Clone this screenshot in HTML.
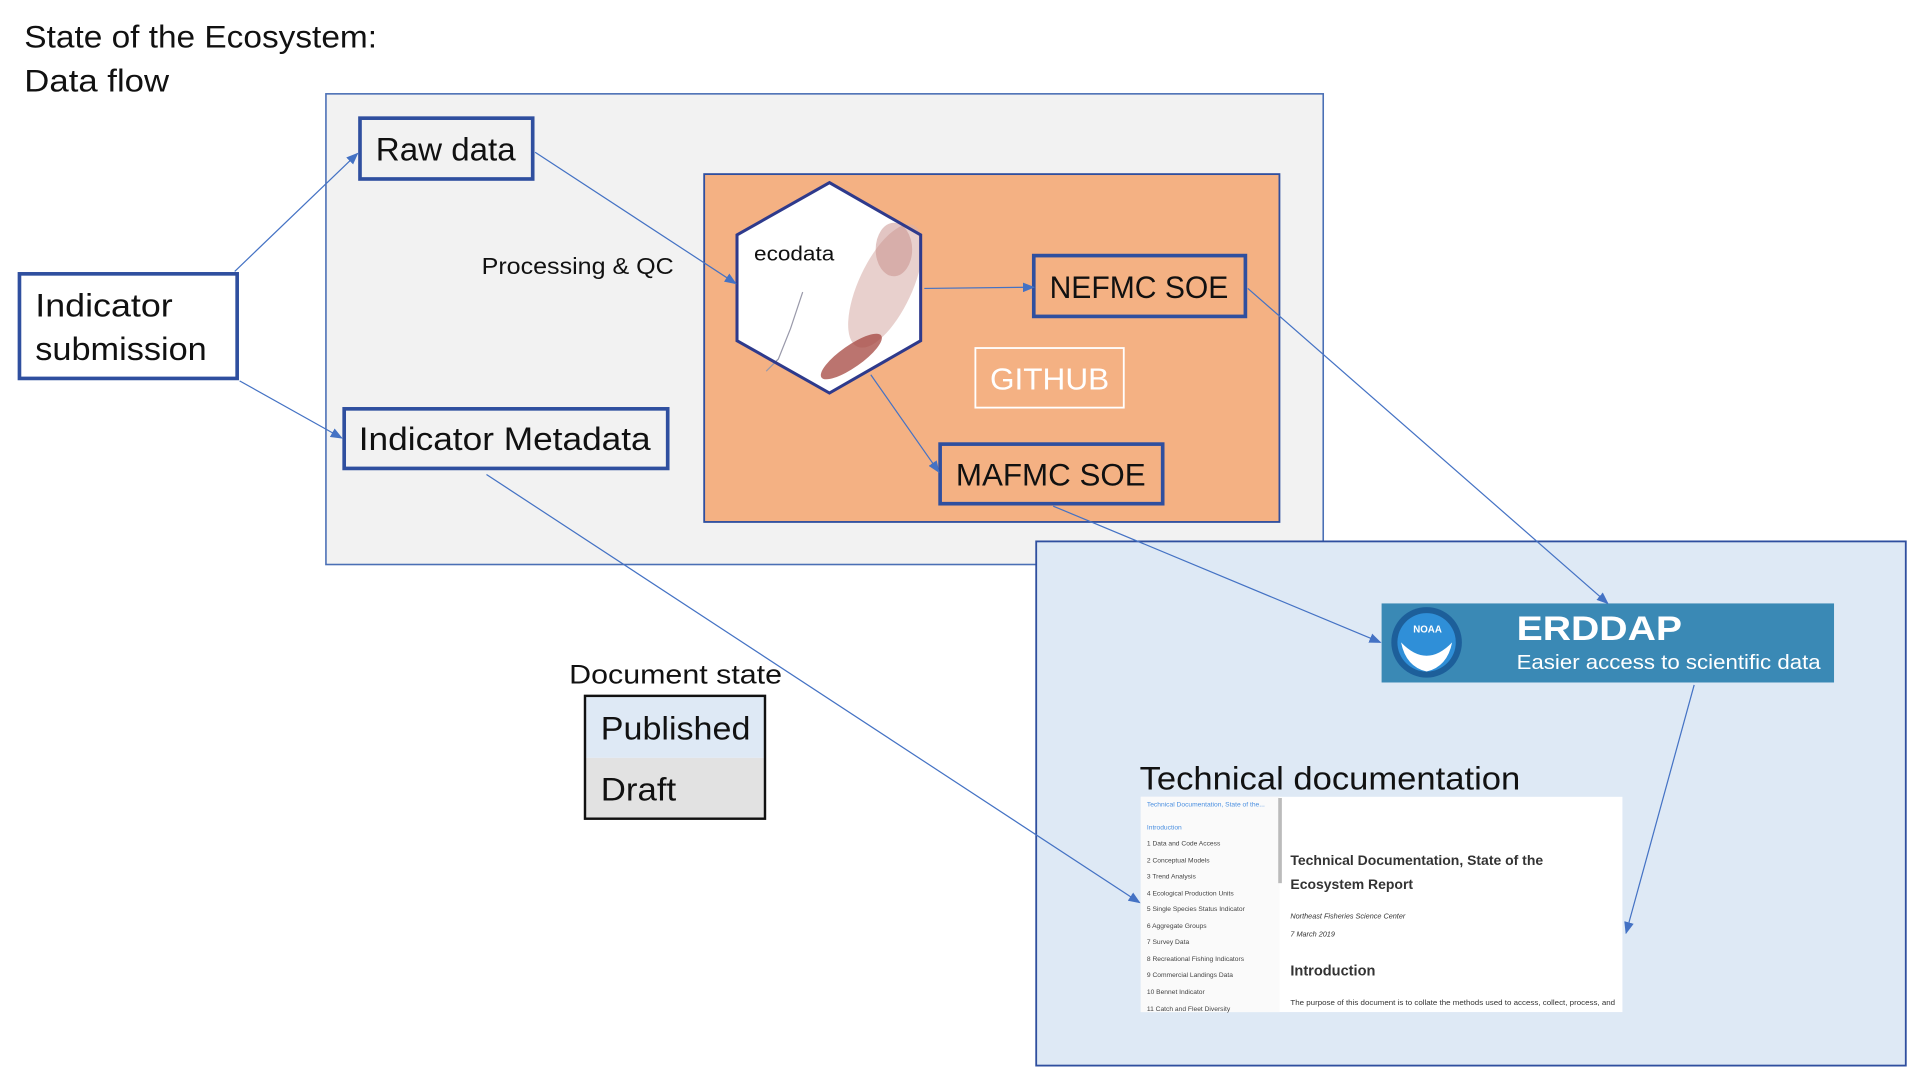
<!DOCTYPE html>
<html><head><meta charset="utf-8"><style>
html,body{margin:0;padding:0;background:#fff;}
svg{display:block;font-family:"Liberation Sans",sans-serif;}
</style></head><body>
<svg width="1907" height="1067" viewBox="0 0 1568 877" xmlns="http://www.w3.org/2000/svg">
<defs>
<marker id="a" markerWidth="10" markerHeight="8" refX="9" refY="4" orient="auto" markerUnits="userSpaceOnUse"><path d="M0,0 L10,4 L0,8 z" fill="#4472c4"/></marker>
</defs>
<g font-family="Liberation Sans, sans-serif">
<text x="20" y="39" font-size="26" fill="#111" textLength="290" lengthAdjust="spacingAndGlyphs">State of the Ecosystem:</text>
<text x="20" y="75" font-size="26" fill="#111" textLength="119" lengthAdjust="spacingAndGlyphs">Data flow</text>

<rect x="268" y="77" width="820" height="387" fill="#f2f2f2" stroke="#4a6fb5" stroke-width="1.3"/>
<rect x="852" y="445" width="715" height="431" fill="#dee9f5" stroke="#2f4f9f" stroke-width="1.5"/>
<rect x="579" y="143" width="473" height="286" fill="#f4b183" stroke="#2f4f9f" stroke-width="1.5"/>

<rect x="296" y="97" width="142" height="50" fill="#f2f2f2" stroke="#2f4f9f" stroke-width="3"/>
<text x="309" y="132" font-size="27" fill="#111" textLength="115" lengthAdjust="spacingAndGlyphs">Raw data</text>
<rect x="16" y="225" width="179" height="86" fill="#fff" stroke="#2f4f9f" stroke-width="3"/>
<text x="29" y="260" font-size="27" fill="#111" textLength="113" lengthAdjust="spacingAndGlyphs">Indicator</text>
<text x="29" y="296" font-size="27" fill="#111" textLength="141" lengthAdjust="spacingAndGlyphs">submission</text>
<rect x="283" y="336" width="266" height="49" fill="#f2f2f2" stroke="#2f4f9f" stroke-width="3"/>
<text x="295" y="370" font-size="27" fill="#111" textLength="240" lengthAdjust="spacingAndGlyphs">Indicator Metadata</text>
<text x="396" y="225" font-size="19" fill="#111" textLength="158" lengthAdjust="spacingAndGlyphs">Processing &amp; QC</text>

<polygon points="682,150 757,193 757,280 682,323 606,280 606,193" fill="#fff"/>
<ellipse cx="728" cy="235" rx="22" ry="55" fill="#d8b0ac" opacity="0.6" transform="rotate(25 728 235)"/>
<ellipse cx="735" cy="205" rx="15" ry="22" fill="#c58c88" opacity="0.5"/>
<ellipse cx="700" cy="293" rx="30" ry="9" fill="#a4453f" opacity="0.75" transform="rotate(-35 700 293)"/>
<path d="M660,240 L650,270 L640,295 L630,305" stroke="#99a" stroke-width="1" fill="none"/>
<polygon points="682,150 757,193 757,280 682,323 606,280 606,193" fill="none" stroke="#2e3a8c" stroke-width="2.5"/>
<text x="620" y="214" font-size="17" fill="#111" textLength="66" lengthAdjust="spacingAndGlyphs">ecodata</text>

<rect x="850" y="210" width="174" height="50" fill="#f4b183" stroke="#2f4f9f" stroke-width="3"/>
<text x="863" y="245" font-size="26" fill="#111" textLength="147" lengthAdjust="spacingAndGlyphs">NEFMC SOE</text>
<rect x="802" y="286" width="122" height="49" fill="none" stroke="#fff" stroke-width="1.5"/>
<text x="814" y="320" font-size="25" fill="#fff" textLength="98" lengthAdjust="spacingAndGlyphs">GITHUB</text>
<rect x="773" y="365" width="183" height="49" fill="#f4b183" stroke="#2f4f9f" stroke-width="3"/>
<text x="786" y="399" font-size="26" fill="#111" textLength="156" lengthAdjust="spacingAndGlyphs">MAFMC SOE</text>

<rect x="1136" y="496" width="372" height="65" fill="#3a89b5"/>
<circle cx="1173" cy="528" r="29" fill="#1d5f9a"/>
<circle cx="1173" cy="528" r="24" fill="#2f8fd8"/>
<path d="M1152,528 Q1173,550 1194,528 Q1190,548 1173,552 Q1156,548 1152,528z" fill="#fff"/>
<text x="1162" y="520" font-size="8" fill="#fff" font-weight="bold">NOAA</text>
<text x="1247" y="526" font-size="28" font-weight="bold" fill="#fff" textLength="136" lengthAdjust="spacingAndGlyphs">ERDDAP</text>
<text x="1247" y="550" font-size="17" fill="#fff" textLength="250" lengthAdjust="spacingAndGlyphs">Easier access to scientific data</text>

<text x="937" y="649" font-size="27" fill="#111" textLength="313" lengthAdjust="spacingAndGlyphs">Technical documentation</text>
<rect x="938" y="655" width="396" height="177" fill="#fff"/>
<rect x="938" y="655" width="114" height="177" fill="#fafafa"/>
<rect x="1051" y="656" width="3" height="70" fill="#bbb"/>
<g font-size="5.5" fill="#444">
<text x="943" y="663" fill="#4a8fe0">Technical Documentation, State of the...</text>
<text x="943" y="682" fill="#4a8fe0">Introduction</text>
<text x="943" y="695">1 Data and Code Access</text>
<text x="943" y="709">2 Conceptual Models</text>
<text x="943" y="722">3 Trend Analysis</text>
<text x="943" y="736">4 Ecological Production Units</text>
<text x="943" y="749">5 Single Species Status Indicator</text>
<text x="943" y="763">6 Aggregate Groups</text>
<text x="943" y="776">7 Survey Data</text>
<text x="943" y="790">8 Recreational Fishing Indicators</text>
<text x="943" y="803">9 Commercial Landings Data</text>
<text x="943" y="817">10 Bennet Indicator</text>
<text x="943" y="831">11 Catch and Fleet Diversity</text>
</g>
<text x="1061" y="711" font-size="11.5" font-weight="bold" fill="#333">Technical Documentation, State of the</text>
<text x="1061" y="731" font-size="11.5" font-weight="bold" fill="#333">Ecosystem Report</text>
<text x="1061" y="755" font-size="6" font-style="italic" fill="#333">Northeast Fisheries Science Center</text>
<text x="1061" y="770" font-size="6" font-style="italic" fill="#333">7 March 2019</text>
<text x="1061" y="802" font-size="12" font-weight="bold" fill="#333">Introduction</text>
<text x="1061" y="826" font-size="5.8" fill="#333" textLength="267" lengthAdjust="spacingAndGlyphs">The purpose of this document is to collate the methods used to access, collect, process, and</text>

<text x="468" y="562" font-size="22" fill="#111" textLength="175" lengthAdjust="spacingAndGlyphs">Document state</text>
<rect x="481" y="572" width="148" height="51" fill="#dee9f5"/>
<rect x="481" y="623" width="148" height="50" fill="#e2e2e2"/>
<rect x="481" y="572" width="148" height="101" fill="none" stroke="#111" stroke-width="2"/>
<text x="494" y="608" font-size="27" fill="#111" textLength="123" lengthAdjust="spacingAndGlyphs">Published</text>
<text x="494" y="658" font-size="27" fill="#111" textLength="62" lengthAdjust="spacingAndGlyphs">Draft</text>

<g stroke="#4472c4" stroke-width="1" fill="none" marker-end="url(#a)">
<line x1="193" y1="223" x2="294" y2="126"/>
<line x1="197" y1="313" x2="281" y2="360"/>
<line x1="440" y1="125" x2="605" y2="233"/>
<line x1="760" y1="237" x2="850" y2="236"/>
<line x1="716" y1="308" x2="772" y2="388"/>
<line x1="1026" y1="237" x2="1322" y2="496"/>
<line x1="866" y1="416" x2="1135" y2="528"/>
<line x1="400" y1="390" x2="937" y2="742"/>
<line x1="1393" y1="563" x2="1337" y2="767"/>
</g>
</g>
</svg>
</body></html>
